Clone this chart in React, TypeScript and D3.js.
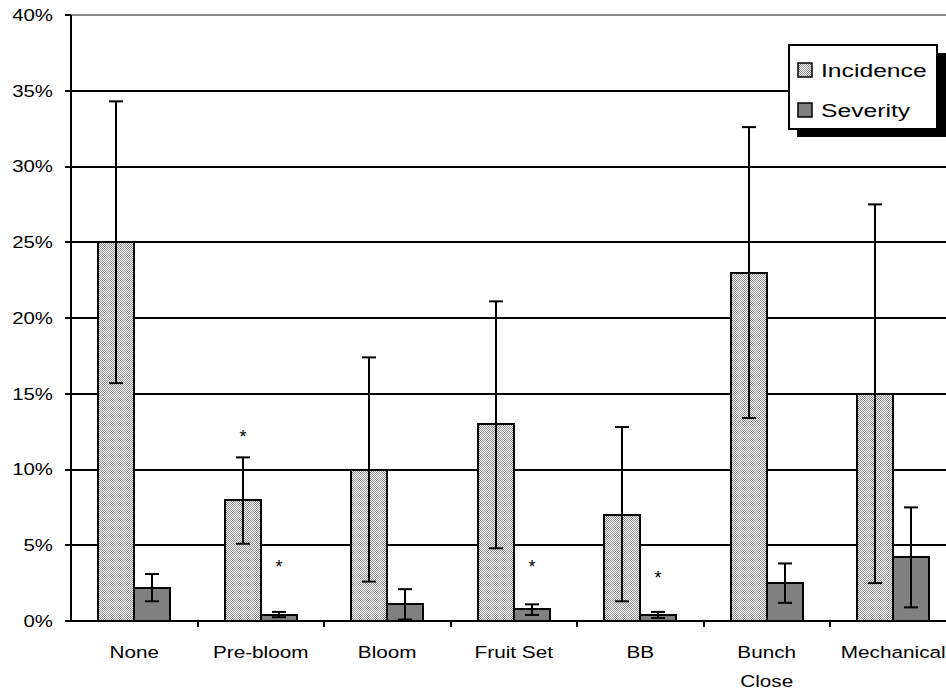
import * as d3 from 'd3';

const categories = ['None', 'Pre-bloom', 'Bloom', 'Fruit Set', 'BB', 'Bunch Close', 'Mechanical'];
const series = ['Incidence', 'Severity'];

// values in %
const incidence = [25, 8, 10, 13, 7, 23, 15];
const incidenceLow = [15.7, 5.1, 2.6, 4.8, 1.3, 13.4, 2.5];
const incidenceHigh = [34.3, 10.8, 17.4, 21.1, 12.8, 32.6, 27.5];

const severity = [2.2, 0.4, 1.1, 0.8, 0.4, 2.5, 4.2];
const severityLow = [1.3, 0.25, 0.1, 0.4, 0.2, 1.2, 0.9];
const severityHigh = [3.1, 0.6, 2.1, 1.1, 0.6, 3.8, 7.5];

// significance markers: [category, series, height of marker in %]
const stars: [string, string, number][] = [
  ['Pre-bloom', 'Incidence', 12.3],
  ['Pre-bloom', 'Severity', 3.7],
  ['Fruit Set', 'Severity', 3.7],
  ['BB', 'Severity', 3.0],
];

const yTicks = [0, 5, 10, 15, 20, 25, 30, 35, 40];

const font = 'Liberation Sans, Arial, sans-serif';

// text is a bit wider than plain Arial in the original, stretch it horizontally
function Label(props: { x: number; y: number; size: number; sx: number; anchor?: string; children: any }) {
  return (
    <text transform={`translate(${props.x},${props.y}) scale(${props.sx},1)`} dy="0.35em"
      textAnchor={props.anchor || 'start'} fontFamily={font} fontSize={props.size} fill="#000">
      {props.children}
    </text>
  );
}

export default function App() {
  const width = 946;
  const height = 696;
  const left = 71;
  const top = 15;
  const bottom = 621;
  const right = left + 7 * 126.5;

  const x = d3.scaleBand().domain(categories).range([left, right]).padding(0);
  const xs = d3.scaleBand().domain(series).range([0, x.bandwidth()]).paddingInner(0).paddingOuter(0.75);
  const y = d3.scaleLinear().domain([0, 40]).range([bottom, top]);

  const barX = (c: string, s: string) => Math.round((x(c) as number) + (xs(s) as number));
  const bw = Math.round(xs.bandwidth());

  const rows = categories.map((c, i) => ({
    c,
    bars: [
      { s: 'Incidence', v: incidence[i], lo: incidenceLow[i], hi: incidenceHigh[i] },
      { s: 'Severity', v: severity[i], lo: severityLow[i], hi: severityHigh[i] },
    ],
  }));

  const fillOf = (s: string) => (s === 'Incidence' ? 'url(#dither)' : '#808080');

  return (
    <svg width={width} height={height} style={{ position: 'absolute', left: 0, top: 0, background: '#fff' }}>
      <defs>
        <pattern id="dither" width="2" height="2" patternUnits="userSpaceOnUse">
          <rect width="2" height="2" fill="#ffffff" />
          <rect x="0" y="0" width="1" height="1" fill="#8c8c8c" />
          <rect x="1" y="1" width="1" height="1" fill="#8c8c8c" />
        </pattern>
      </defs>

      {/* gridlines */}
      {yTicks.filter(t => t > 0).map(t => (
        <line key={t} x1={left} x2={right} y1={Math.round(y(t))} y2={Math.round(y(t))}
          stroke={t === 40 ? '#888' : '#000'} strokeWidth={2} />
      ))}

      {/* bars */}
      {rows.map(r => (
        <g key={r.c}>
          {r.bars.map(b => (
            <rect key={b.s} x={barX(r.c, b.s)} y={Math.round(y(b.v))} width={bw}
              height={Math.round(y(0)) - Math.round(y(b.v))}
              fill={fillOf(b.s)} stroke="#000" strokeWidth={2} />
          ))}
          {r.bars.map(b => {
            const cx = barX(r.c, b.s) + bw / 2;
            return (
              <g key={b.s + 'e'} stroke="#000" strokeWidth={2}>
                <line x1={cx} x2={cx} y1={y(b.lo)} y2={y(b.hi)} />
                <line x1={cx - 7} x2={cx + 7} y1={y(b.lo)} y2={y(b.lo)} />
                <line x1={cx - 7} x2={cx + 7} y1={y(b.hi)} y2={y(b.hi)} />
              </g>
            );
          })}
        </g>
      ))}

      {/* stars */}
      {stars.map(([c, s, v]) => (
        <text key={c + s} x={barX(c, s) + bw / 2} y={y(v) + 8}
          textAnchor="middle" fontFamily={font} fontSize={18} fill="#000">*</text>
      ))}

      {/* axes */}
      <line x1={left} x2={left} y1={top} y2={bottom + 1} stroke="#000" strokeWidth={2} />
      <line x1={left - 1} x2={right} y1={bottom} y2={bottom} stroke="#000" strokeWidth={2} />
      {yTicks.map(t => (
        <g key={t}>
          <line x1={left - 6} x2={left} y1={Math.round(y(t))} y2={Math.round(y(t))} stroke="#000" strokeWidth={2} />
          <Label x={53} y={y(t)} size={17} sx={1.2} anchor="end">{t}%</Label>
        </g>
      ))}
      {categories.map((c, i) => {
        const cx = (x(c) as number) + x.bandwidth() / 2;
        const lines = c === 'Bunch Close' ? ['Bunch', 'Close'] : [c];
        return (
          <g key={c}>
            {i > 0 && (
              <line x1={Math.round(x(c) as number)} x2={Math.round(x(c) as number)} y1={bottom} y2={bottom + 6}
                stroke="#000" strokeWidth={2} />
            )}
            {lines.map((t, j) => (
              <Label key={t} x={cx} y={652 + j * 29} size={17} sx={1.22} anchor="middle">{t}</Label>
            ))}
          </g>
        );
      })}

      {/* legend */}
      <g>
        <rect x={797} y={53} width={149} height={84} fill="#000" />
        <rect x={789} y={45} width={148} height={84} fill="#fff" stroke="#000" strokeWidth={2} />
        {series.map((s, i) => (
          <g key={s}>
            <rect x={798} y={63 + i * 40} width={14} height={14} fill={fillOf(s)} stroke="#000" strokeWidth={1.5} />
            <Label x={821} y={70 + i * 40} size={19} sx={1.3}>{s}</Label>
          </g>
        ))}
      </g>
    </svg>
  );
}
